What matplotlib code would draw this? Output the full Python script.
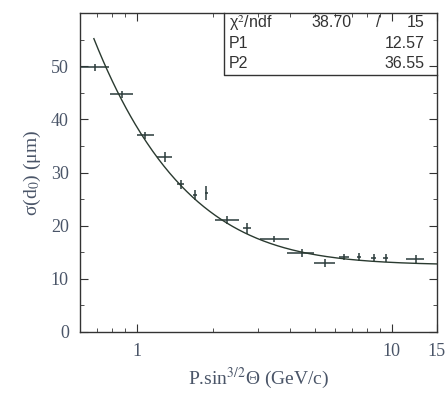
import numpy as np
import matplotlib
matplotlib.use("Agg")
import matplotlib.pyplot as plt
from matplotlib.ticker import FixedLocator, NullFormatter

# measured resolution vs momentum
p = [0.685, 0.874, 1.075, 1.286, 1.486, 1.70, 1.877, 2.25, 2.71,
     3.46, 4.45, 5.47, 6.49, 7.44, 8.5, 9.45, 12.4]
p_lo = [0.59, 0.785, 1.0, 1.2, 1.44, 1.67, 1.86, 2.03, 2.62,
        3.05, 3.9, 4.95, 6.2, 7.3, 8.3, 9.2, 11.4]
p_hi = [0.78, 0.97, 1.17, 1.38, 1.53, 1.73, 1.90, 2.52, 2.80,
        3.95, 4.95, 6.0, 6.8, 7.6, 8.7, 9.7, 13.4]
sigma = [49.8, 44.7, 37.0, 32.9, 27.8, 25.75, 26.1, 21.05, 19.5,
         17.5, 14.85, 13.0, 14.1, 14.1, 13.9, 13.9, 13.7]
sigma_err = [0.6, 0.6, 0.6, 1.0, 0.8, 1.0, 1.3, 0.8, 1.0,
             0.6, 0.8, 0.8, 0.6, 0.8, 0.8, 0.8, 0.8]

# fit parameters: sigma = sqrt(P1^2 + (P2/p)^2)
chi2, ndf = 38.70, 15
P1, P2 = 12.57, 36.55

plt.rcParams['font.family'] = ['Liberation Serif', 'DejaVu Serif']
plt.rcParams['mathtext.fontset'] = 'stix'

fig = plt.figure(figsize=(4.48, 3.99), dpi=100)
ax = fig.add_axes([0.1786, 0.168, 0.7964, 0.799])

p = np.array(p)
xerr = [p - np.array(p_lo), np.array(p_hi) - p]
ax.errorbar(p, sigma, xerr=xerr, yerr=sigma_err, fmt='none',
            ecolor='#2a3a3a', elinewidth=1.1, capsize=0)

pf = np.logspace(np.log10(0.68), np.log10(15), 300)
ax.plot(pf, np.sqrt(P1**2 + (P2 / pf)**2), color='#2a3a30', lw=1.0)

ax.set_xscale('log')
ax.set_xlim(0.6, 15)
ax.set_ylim(0, 60)
ax.xaxis.set_major_locator(FixedLocator([1, 10, 15]))
ax.set_xticklabels(['1', '10', '15'])
ax.xaxis.set_minor_locator(FixedLocator([0.7, 0.8, 0.9, 2, 3, 4, 5, 6, 7, 8, 9]))
ax.xaxis.set_minor_formatter(NullFormatter())
ax.set_yticks([0, 10, 20, 30, 40, 50])
ax.set_yticks([5, 15, 25, 35, 45, 55], minor=True)

ax.tick_params(which='both', direction='in', top=True, right=True,
               labelsize=13, colors='#333', labelcolor='#4a5568', pad=8)
ax.tick_params(which='major', length=6)
ax.tick_params(which='minor', length=3)
for s in ax.spines.values():
    s.set_color('#333')
    s.set_linewidth(1.0)

ax.set_xlabel('P.sin$^{3/2}$Θ (GeV/c)', fontsize=14, color='#4a5568')
ax.set_ylabel('σ(d$_0$) (μm)', fontsize=14, color='#4a5568', labelpad=6)

# stats box
bx0, by0 = 0.403, 0.806
ax.plot([bx0, bx0, 1.0], [1.0, by0, by0], transform=ax.transAxes,
        color='#333', lw=1.0, clip_on=False)
sans = ['Liberation Sans', 'DejaVu Sans']
rows = [('χ$^2$/ndf', f'{chi2:.2f}', f'{ndf}'),
        ('P1', '', f'{P1:.2f}'),
        ('P2', '', f'{P2:.2f}')]
for i, (name, mid, val) in enumerate(rows):
    y = 0.970 - i * 0.064
    ax.text(bx0 + 0.015, y, name, transform=ax.transAxes, fontsize=11.5,
            family=sans, va='center', color='#333')
    if mid:
        ax.text(0.762, y, mid, transform=ax.transAxes, fontsize=11.5,
                family=sans, va='center', ha='right', color='#333')
        ax.text(0.835, y, '/', transform=ax.transAxes, fontsize=11.5,
                family=sans, va='center', ha='center', color='#333')
    ax.text(0.966, y, val, transform=ax.transAxes, fontsize=11.5,
            family=sans, va='center', ha='right', color='#333')

fig.savefig('out.png', dpi=100)
